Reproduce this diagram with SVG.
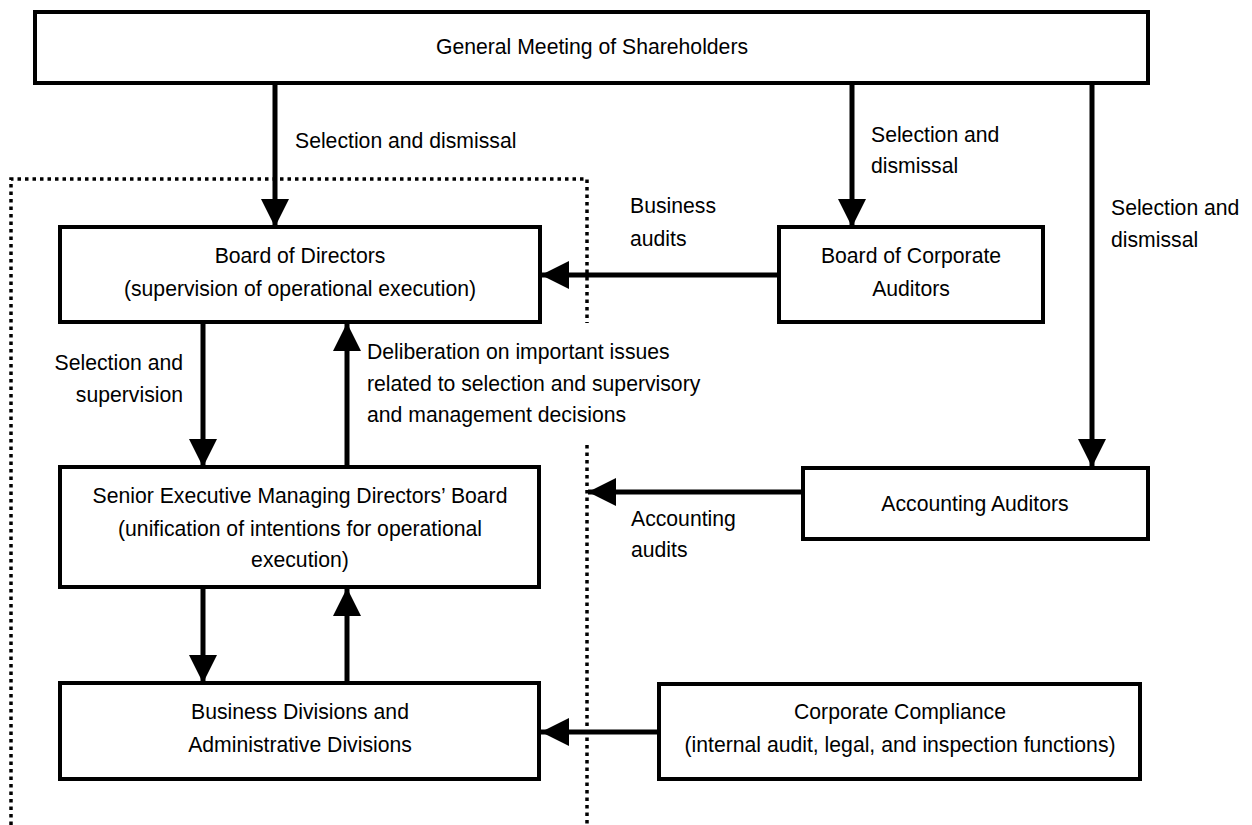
<svg xmlns="http://www.w3.org/2000/svg" width="1252" height="825" viewBox="0 0 1252 825">
<style>
.box{fill:#fff;stroke:#000;stroke-width:4}
.t{font-family:"Liberation Sans",Arial,sans-serif;font-size:21.2px;fill:#000}
.c{text-anchor:middle}
.r{text-anchor:end}
.ln{stroke:#000;stroke-width:5;fill:none;marker-end:url(#ah)}
.dot{stroke:#000;stroke-width:3.5;fill:none;stroke-dasharray:3.5 4}
</style>
<defs>
<marker id="ah" viewBox="0 0 28 28" refX="28" refY="14" markerWidth="28" markerHeight="28" markerUnits="userSpaceOnUse" orient="auto">
<path d="M0,0 L28,14 L0,28 z" fill="#000"/>
</marker>
</defs>
<rect width="1252" height="825" fill="#fff"/>
<g id="boundary">
<path class="dot" d="M11,825 V179 H587 V323"/>
<path class="dot" d="M587,445 V825"/>
</g>
<g id="connectors">
<line class="ln" x1="275" y1="85" x2="275" y2="227"/>
<line class="ln" x1="852" y1="85" x2="852" y2="227"/>
<line class="ln" x1="1092" y1="85" x2="1092" y2="467"/>
<line class="ln" x1="779" y1="275" x2="541" y2="275"/>
<line class="ln" x1="803" y1="492" x2="588" y2="492"/>
<line class="ln" x1="659" y1="732" x2="541" y2="732"/>
<line class="ln" x1="203" y1="322" x2="203" y2="467"/>
<line class="ln" x1="347" y1="467" x2="347" y2="323"/>
<line class="ln" x1="203" y1="588" x2="203" y2="683"/>
<line class="ln" x1="347" y1="683" x2="347" y2="588"/>
<text class="t" x="295" y="148">Selection and dismissal</text>
<text class="t" x="871" y="142">Selection and</text>
<text class="t" x="871" y="173">dismissal</text>
<text class="t" x="1111" y="215">Selection and</text>
<text class="t" x="1111" y="247">dismissal</text>
<text class="t" x="630" y="213">Business</text>
<text class="t" x="630" y="246">audits</text>
<text class="t r" x="183" y="370">Selection and</text>
<text class="t r" x="183" y="402">supervision</text>
<text class="t" x="367" y="359">Deliberation on important issues</text>
<text class="t" x="367" y="391">related to selection and supervisory</text>
<text class="t" x="367" y="422">and management decisions</text>
<text class="t" x="631" y="526">Accounting</text>
<text class="t" x="631" y="557">audits</text>
</g>
<g id="shareholders">
<rect class="box" x="35" y="12" width="1113" height="71"/>
<text class="t c" x="592" y="54">General Meeting of Shareholders</text>
</g>
<g id="board-directors">
<rect class="box" x="60" y="227" width="480" height="95"/>
<text class="t c" x="300" y="263">Board of Directors</text>
<text class="t c" x="300" y="296">(supervision of operational execution)</text>
</g>
<g id="board-auditors">
<rect class="box" x="779" y="227" width="264" height="95"/>
<text class="t c" x="911" y="263">Board of Corporate</text>
<text class="t c" x="911" y="296">Auditors</text>
</g>
<g id="senior-board">
<rect class="box" x="60" y="467" width="479" height="120"/>
<text class="t c" x="300" y="503">Senior Executive Managing Directors’ Board</text>
<text class="t c" x="300" y="536">(unification of intentions for operational</text>
<text class="t c" x="300" y="567">execution)</text>
</g>
<g id="accounting-auditors">
<rect class="box" x="803" y="468" width="345" height="71"/>
<text class="t c" x="975" y="511">Accounting Auditors</text>
</g>
<g id="divisions">
<rect class="box" x="60" y="683" width="479" height="96"/>
<text class="t c" x="300" y="719">Business Divisions and</text>
<text class="t c" x="300" y="752">Administrative Divisions</text>
</g>
<g id="compliance">
<rect class="box" x="659" y="684" width="481" height="95"/>
<text class="t c" x="900" y="719">Corporate Compliance</text>
<text class="t c" x="900" y="752">(internal audit, legal, and inspection functions)</text>
</g>
</svg>
